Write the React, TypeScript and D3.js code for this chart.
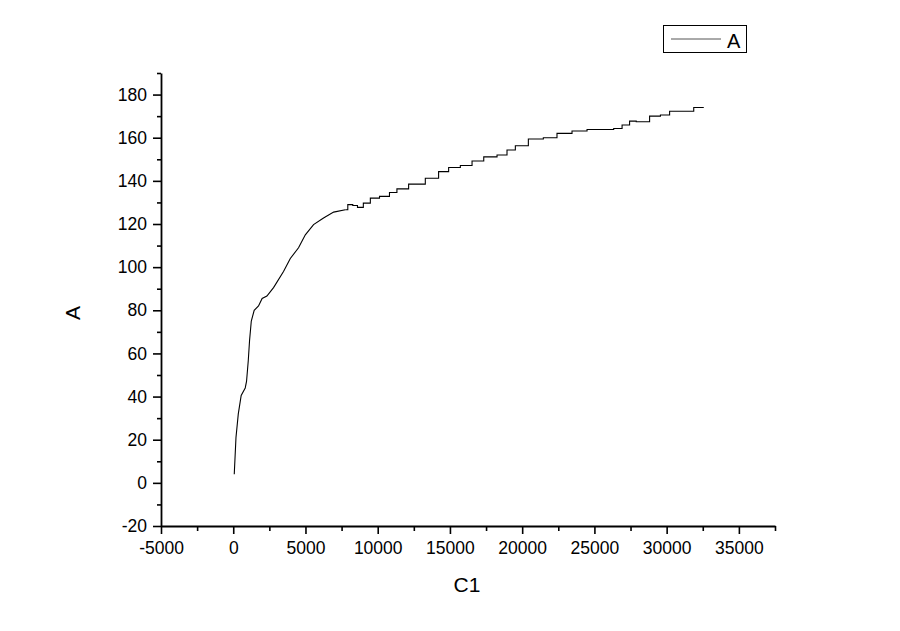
import React, { useEffect, useRef } from 'react';
import * as d3 from 'd3';

// C1 (x) and A (y)
const c1 = [
  70, 190, 350, 550, 830, 920, 1040, 1130, 1250, 1450, 1750, 2000, 2330, 2790,
  3480, 3950, 4520, 4990, 5560, 6250, 6950, 7760, 8100, 8450, 8750, 9260, 9720,
  10530, 11100, 11560, 12720, 13870, 14560, 15260, 16180, 16880, 17800, 18720,
  19180, 19875, 20980, 21950, 22870, 24030, 24950, 25990, 26680, 27150, 27720,
  28070, 28530, 29110, 30030, 30380, 31760, 31990, 32570,
];
const aValues = [
  4, 21, 32, 40.5, 44, 47, 56.6, 66, 75, 80, 82, 85.5, 86.6, 90.5,
  98, 104, 109, 115, 119.7, 122.8, 125.5, 126.6, 129, 128.6, 127.7, 129.7, 132,
  132.8, 134.6, 136.3, 138.5, 141.2, 144.3, 146.2, 147.1, 149.2, 151.1, 152,
  154.3, 156.3, 159.4, 160, 162, 163.1, 163.8, 163.8, 164.3, 165.9, 167.7,
  167.4, 167.4, 170, 170.5, 172.3, 172.3, 174, 174,
];

const xMajor = [-5000, 0, 5000, 10000, 15000, 20000, 25000, 30000, 35000];
const xMinor = [-2500, 2500, 7500, 12500, 17500, 22500, 27500, 32500, 37500];
const yMajor = [-20, 0, 20, 40, 60, 80, 100, 120, 140, 160, 180];
const yMinor = [-10, 10, 30, 50, 70, 90, 110, 130, 150, 170, 190];

const seriesName = 'A';
const xTitle = 'C1';
const yTitle = 'A';

const FONT = '"Liberation Sans", Arial, sans-serif';

export default function App() {
  const ref = useRef<SVGSVGElement>(null);

  useEffect(() => {
    const width = 900;
    const height = 631;
    const left = 161, right = 775, top = 73, bottom = 526;

    const svg = d3.select(ref.current);
    svg.selectAll('*').remove();
    svg.attr('width', width).attr('height', height);

    const x = d3.scaleLinear().domain([-5000, 37500]).range([left, right]);
    const y = d3.scaleLinear().domain([-20, 190]).range([bottom, top]);
    const fmt = (d: d3.NumberValue) => String(d); // plain hyphen for negatives

    // minor ticks first, then major ticks + labels
    const gx = svg.append('g').attr('transform', 'translate(0,' + bottom + ')');
    gx.call(d3.axisBottom(x).tickValues(xMinor).tickSize(5).tickSizeOuter(0).tickFormat(() => ''));
    gx.call(g => g.select('.domain').remove());
    const gx2 = svg.append('g').attr('transform', 'translate(0,' + bottom + ')');
    gx2.call(d3.axisBottom(x).tickValues(xMajor).tickSize(8).tickSizeOuter(0).tickPadding(8).tickFormat(fmt));

    const gy = svg.append('g').attr('transform', 'translate(' + left + ',0)');
    gy.call(d3.axisLeft(y).tickValues(yMinor).tickSize(4).tickSizeOuter(0).tickFormat(() => ''));
    gy.call(g => g.select('.domain').remove());
    const gy2 = svg.append('g').attr('transform', 'translate(' + left + ',0)');
    gy2.call(d3.axisLeft(y).tickValues(yMajor).tickSize(8).tickSizeOuter(0).tickPadding(6).tickFormat(fmt));

    svg.selectAll('.domain').attr('stroke', '#000').attr('stroke-width', 1.8);
    svg.selectAll('.tick line').attr('stroke', '#000').attr('stroke-width', 1.6);
    svg.selectAll('.tick text')
      .attr('fill', '#000')
      .style('font-family', FONT)
      .style('font-size', '17.5px');

    // steep start drawn straight, the slow part as Origin-like steps
    const split = 21;
    const pts = c1.map((c, i) => [c, aValues[i]] as [number, number]);
    const linear = d3.line<[number, number]>().x(d => x(d[0])).y(d => y(d[1]));
    const stepped = d3.line<[number, number]>().x(d => x(d[0])).y(d => y(d[1])).curve(d3.curveStep);

    svg.append('path')
      .datum(pts.slice(0, split + 1))
      .attr('d', linear)
      .attr('fill', 'none')
      .attr('stroke', '#000')
      .attr('stroke-width', 1.1);
    svg.append('path')
      .datum(pts.slice(split))
      .attr('d', stepped)
      .attr('fill', 'none')
      .attr('stroke', '#000')
      .attr('stroke-width', 1.1);

    // axis titles
    svg.append('text')
      .attr('x', (left + right) / 2 - 1)
      .attr('y', 592)
      .attr('text-anchor', 'middle')
      .style('font-family', FONT)
      .style('font-size', '21px')
      .text(xTitle);

    svg.append('text')
      .attr('transform', 'translate(80,313) rotate(-90)')
      .attr('text-anchor', 'middle')
      .style('font-family', FONT)
      .style('font-size', '21px')
      .text(yTitle);

    // legend
    const lg = svg.append('g');
    lg.append('rect')
      .attr('x', 663.5).attr('y', 25.5)
      .attr('width', 83).attr('height', 27)
      .attr('fill', 'none')
      .attr('stroke', '#000')
      .attr('stroke-width', 1);
    lg.append('line')
      .attr('x1', 671).attr('x2', 721)
      .attr('y1', 39).attr('y2', 39)
      .attr('stroke', '#555')
      .attr('stroke-width', 1);
    lg.append('text')
      .attr('x', 727)
      .attr('y', 47.5)
      .style('font-family', FONT)
      .style('font-size', '20px')
      .text(seriesName);
  }, []);

  return (
    <svg ref={ref} style={{ position: 'absolute', left: 0, top: 0, display: 'block', background: '#fff' }} />
  );
}
